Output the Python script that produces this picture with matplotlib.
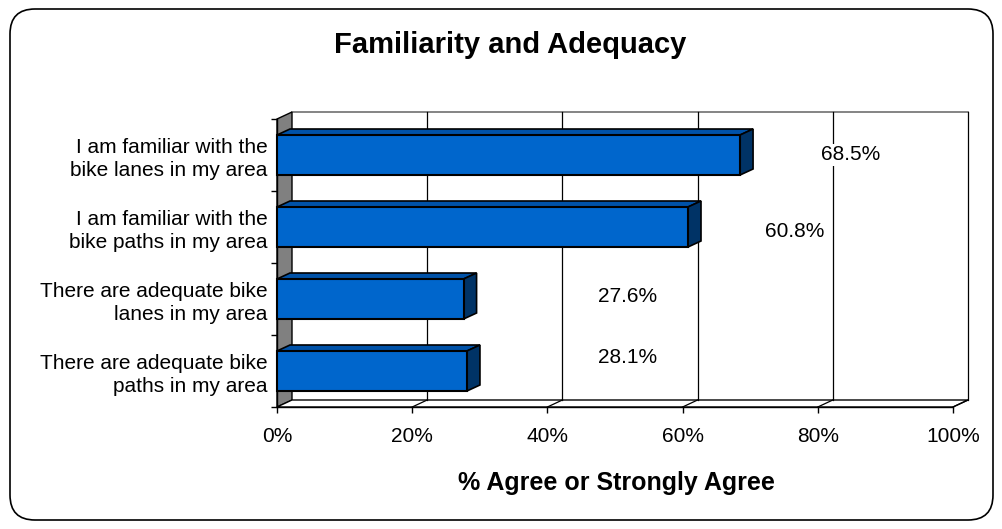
import matplotlib
matplotlib.use("Agg")
import matplotlib.pyplot as plt
from matplotlib.patches import Polygon, Rectangle, FancyBboxPatch

plt.rcParams['font.family'] = ['Liberation Sans', 'DejaVu Sans']

# data
categories = ["I am familiar with the\nbike lanes in my area",
              "I am familiar with the\nbike paths in my area",
              "There are adequate bike\nlanes in my area",
              "There are adequate bike\npaths in my area"]
values = [68.5, 60.8, 27.6, 28.1]
value_labels = ["68.5%", "60.8%", "27.6%", "28.1%"]
xticks = [0, 20, 40, 60, 80, 100]
xtick_labels = ["0%", "20%", "40%", "60%", "80%", "100%"]

# where excel dropped the value labels (x in %, y in category units)
label_x = [84.8, 76.6, 51.8, 51.8]
label_dy = [0.0, 0.06, -0.04, -0.19]

front = '#0066CC'
top = '#0052A8'
side = '#003366'

fig = plt.figure(figsize=(10.03, 5.29), dpi=100)
ax = fig.add_axes([277/1003, (529-407)/529, 676/1003, 288/529])
ax.set_xlim(0, 100)
ax.set_ylim(3.5, -0.5)

# 3d depth offsets
wdx, wdy = 15/6.76, -7/72
bdx, bdy = 13/6.76, -6/72
h = 40/72

# walls and floor
ax.add_patch(Polygon([(wdx, -0.5+wdy), (100+wdx, -0.5+wdy), (100+wdx, 3.5+wdy), (wdx, 3.5+wdy)],
                     closed=True, fc='white', ec='none', clip_on=False, zorder=0))
ax.plot([wdx, 100+wdx], [-0.5+wdy, -0.5+wdy], color='#707070', lw=1.2, clip_on=False, zorder=1)
ax.add_patch(Polygon([(0, -0.5), (wdx, -0.5+wdy), (wdx, 3.5+wdy), (0, 3.5)],
                     closed=True, fc='#808080', ec='black', lw=1, clip_on=False, zorder=1))
ax.add_patch(Polygon([(0, 3.5), (100, 3.5), (100+wdx, 3.5+wdy), (wdx, 3.5+wdy)],
                     closed=True, fc='white', ec='black', lw=1, clip_on=False, zorder=1))
for x in xticks[1:]:
    ax.plot([x+wdx, x+wdx], [-0.5+wdy, 3.5+wdy], color='black', lw=0.9, clip_on=False, zorder=1)
    ax.plot([x, x+wdx], [3.5, 3.5+wdy], color='black', lw=0.9, clip_on=False, zorder=1)

# bars
for i, v in enumerate(values):
    y0 = i - h/2
    ax.add_patch(Polygon([(0, y0), (v, y0), (v+bdx, y0+bdy), (bdx, y0+bdy)],
                         closed=True, fc=top, ec='black', lw=1.2, clip_on=False, zorder=3))
    ax.add_patch(Polygon([(v, y0), (v+bdx, y0+bdy), (v+bdx, y0+h+bdy), (v, y0+h)],
                         closed=True, fc=side, ec='black', lw=1.2, clip_on=False, zorder=3))
    ax.add_patch(Rectangle((0, y0), v, h, fc=front, ec='black', lw=1.5, clip_on=False, zorder=4))
    ax.text(label_x[i], i + label_dy[i], value_labels[i], fontsize=15, ha='center', va='center',
            zorder=5, bbox=dict(fc='white', ec='none', pad=1))

# axes
for s in ['top', 'right']:
    ax.spines[s].set_visible(False)
ax.spines['left'].set_linewidth(1)
ax.spines['bottom'].set_linewidth(1)
ax.set_xticks(xticks)
ax.set_xticklabels(xtick_labels, fontsize=15)
ax.tick_params(axis='x', length=4.3, width=1, pad=10)
ax.set_yticks(range(len(categories)))
ax.set_yticklabels(categories, fontsize=15, ha='right', linespacing=1.3)
ax.tick_params(axis='y', which='major', length=0, pad=7)
ax.set_yticks([-0.5, 0.5, 1.5, 2.5, 3.5], minor=True)
ax.tick_params(axis='y', which='minor', length=4.3, width=1)
ax.patch.set_visible(False)

fig.text(510/1003, 1 - 45/529, "Familiarity and Adequacy", fontsize=21, fontweight='bold',
         ha='center', va='center')
fig.text(616/1003, 1 - 483/529, "% Agree or Strongly Agree", fontsize=18, fontweight='bold',
         ha='center', va='center')

frame = FancyBboxPatch((0.10, 0.09), 9.83, 5.11, boxstyle="round,pad=0,rounding_size=0.25",
                       transform=fig.dpi_scale_trans, fc='none', ec='black', lw=1.2)
fig.add_artist(frame)

fig.savefig("out.png", dpi=100)
